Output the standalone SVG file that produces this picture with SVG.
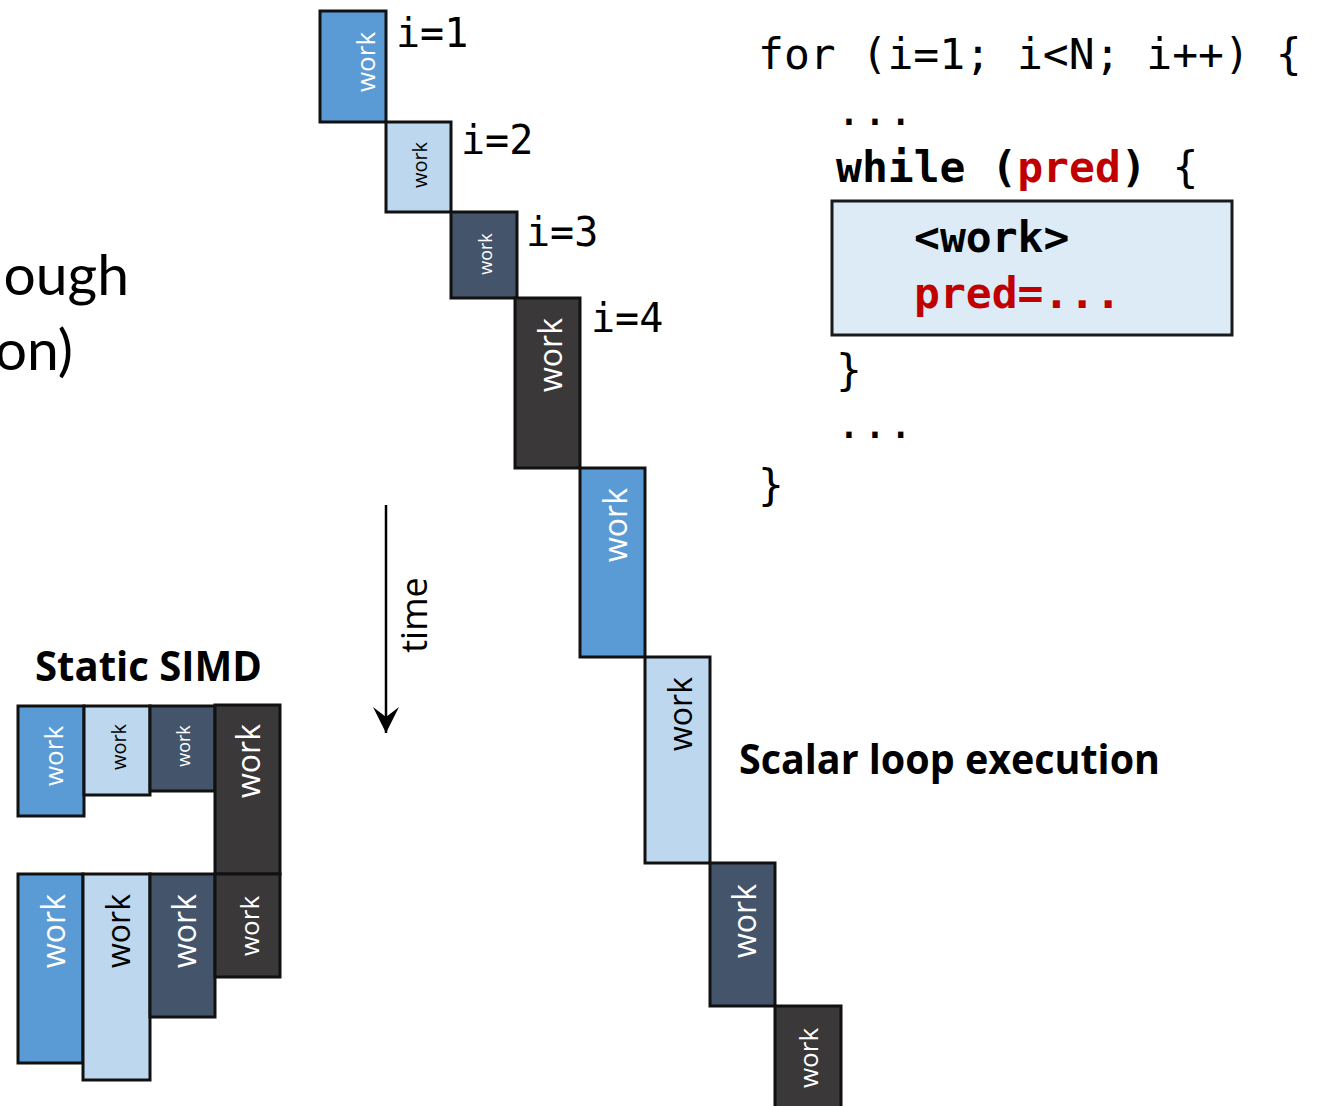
<svg xmlns="http://www.w3.org/2000/svg" width="1330" height="1106" viewBox="0 0 1330 1106">
<defs>
<style>
.box{stroke:#111;stroke-width:3}
.b1{fill:#5B9BD5}
.b2{fill:#BDD7EE}
.b3{fill:#44546A}
.b4{fill:#3A3838}
.w{font-family:"Open Sans","DejaVu Sans",sans-serif;text-anchor:middle}
.wl{fill:#fff}
.dk{fill:#000}
.code{font-family:"DejaVu Sans Mono","Liberation Mono",monospace;font-size:43px;fill:#000}
.lbl{font-family:"DejaVu Sans Mono","Liberation Mono",monospace;font-size:40px;fill:#000}
.red{fill:#C00000}
.bold{font-weight:700}
.head{font-family:"Open Sans",Lato,sans-serif;font-weight:700;font-size:42px;fill:#000}
.big{font-family:Lato,"Open Sans",sans-serif;font-size:57px;fill:#000;text-anchor:end}
</style>
<marker id="arr" markerUnits="userSpaceOnUse" markerWidth="30" markerHeight="30" viewBox="0 0 30 30" refX="28" refY="15" orient="auto">
<path d="M28,15 L2,2 L12,15 L2,28 Z" fill="#000"/>
</marker>
</defs>
<rect width="1330" height="1106" fill="#fff"/>

<!-- left cut-off text -->
<g id="left-text">
<text class="big" x="129" y="295">ough</text>
<text class="big" x="73" y="370">on)</text>
</g>

<!-- scalar staircase -->
<g id="s1"><rect class="box b1" x="320" y="11" width="66" height="111"/><text class="w wl" font-size="26" transform="translate(375,62) rotate(-90)">work</text></g>
<g id="s2"><rect class="box b2" x="386" y="122" width="65" height="90"/><text class="w dk" font-size="20" transform="translate(427,165) rotate(-90)">work</text></g>
<g id="s3"><rect class="box b3" x="451" y="212" width="66" height="86"/><text class="w wl" font-size="18" transform="translate(492,254) rotate(-90)">work</text></g>
<g id="s4"><rect class="box b4" x="515" y="298" width="65" height="170"/><text class="w wl" font-size="32" transform="translate(562,355) rotate(-90)">work</text></g>
<g id="s5"><rect class="box b1" x="580" y="468" width="65" height="189"/><text class="w wl" font-size="32" transform="translate(627,525) rotate(-90)">work</text></g>
<g id="s6"><rect class="box b2" x="645" y="657" width="65" height="206"/><text class="w dk" font-size="32" transform="translate(692,714) rotate(-90)">work</text></g>
<g id="s7"><rect class="box b3" x="710" y="863" width="65" height="143"/><text class="w wl" font-size="32" transform="translate(756,921) rotate(-90)">work</text></g>
<g id="s8"><rect class="box b4" x="775" y="1006" width="66" height="110"/><text class="w wl" font-size="26" transform="translate(818,1058) rotate(-90)">work</text></g>

<g id="labels">
<text class="lbl" x="396" y="47">i=1</text>
<text class="lbl" x="461" y="154">i=2</text>
<text class="lbl" x="526" y="246">i=3</text>
<text class="lbl" x="591" y="332">i=4</text>
</g>

<!-- time arrow -->
<g id="connectors">
<line x1="386" y1="505" x2="386" y2="733" stroke="#000" stroke-width="2.5" marker-end="url(#arr)"/>
</g>
<g id="time"><text class="w dk" font-size="36" transform="translate(427,615) rotate(-90)">time</text></g>

<!-- code -->
<g id="code">
<rect x="832" y="201" width="400" height="134" fill="#DDEBF7" stroke="#1a1a1a" stroke-width="3"/>
<text class="code" x="758" y="69">for (i=1; i&lt;N; i++) {</text>
<text class="code" x="836" y="125">...</text>
<text class="code" x="836" y="182"><tspan class="bold">while (</tspan><tspan class="bold red">pred</tspan><tspan class="bold">)</tspan> {</text>
<text class="code bold" x="914" y="252">&lt;work&gt;</text>
<text class="code bold red" x="914" y="308">pred=...</text>
<text class="code" x="836" y="385">}</text>
<text class="code" x="836" y="438">...</text>
<text class="code" x="758" y="500">}</text>
</g>

<g id="scalar-title"><text class="head" x="739" y="774" textLength="421" lengthAdjust="spacingAndGlyphs">Scalar loop execution</text></g>

<!-- static SIMD -->
<g id="simd-title"><text class="head" x="35" y="681" textLength="227" lengthAdjust="spacingAndGlyphs">Static SIMD</text></g>
<g id="a"><rect class="box b1" x="18" y="706" width="66" height="110"/><text class="w wl" font-size="26" transform="translate(63,756) rotate(-90)">work</text></g>
<g id="b"><rect class="box b2" x="84" y="706" width="66" height="89"/><text class="w dk" font-size="20" transform="translate(126,747) rotate(-90)">work</text></g>
<g id="c"><rect class="box b3" x="150" y="706" width="65" height="85"/><text class="w wl" font-size="18" transform="translate(190,746) rotate(-90)">work</text></g>
<g id="d"><rect class="box b4" x="215" y="705" width="65" height="169"/><text class="w wl" font-size="32" transform="translate(260,761) rotate(-90)">work</text></g>
<g id="e"><rect class="box b1" x="18" y="874" width="65" height="189"/><text class="w wl" font-size="32" transform="translate(65,931) rotate(-90)">work</text></g>
<g id="f"><rect class="box b2" x="83" y="874" width="67" height="206"/><text class="w dk" font-size="32" transform="translate(130,931) rotate(-90)">work</text></g>
<g id="g"><rect class="box b3" x="150" y="874" width="65" height="143"/><text class="w wl" font-size="32" transform="translate(196,931) rotate(-90)">work</text></g>
<g id="h"><rect class="box b4" x="215" y="874" width="65" height="103"/><text class="w wl" font-size="26" transform="translate(259,926) rotate(-90)">work</text></g>
</svg>
